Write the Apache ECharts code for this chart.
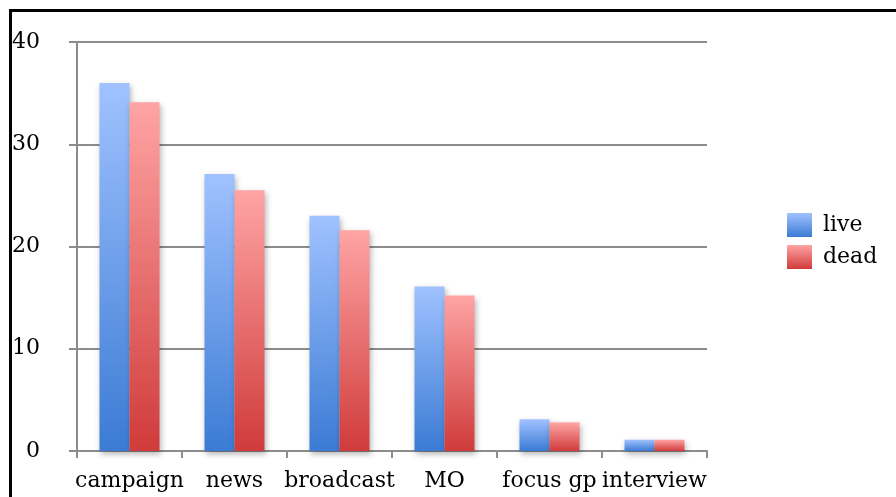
<!DOCTYPE html>
<html>
<head>
<meta charset="utf-8">
<script src="https://cdn.jsdelivr.net/npm/echarts@6/dist/echarts.min.js"></script>
<style>
html,body{margin:0;padding:0;background:#fff;}
#chart{width:896px;height:497px;}
</style>
</head>
<body>
<div id="chart"></div>
<script>
const categories = ['campaign', 'news', 'broadcast', 'MO', 'focus gp', 'interview'];
const liveValues = [36, 27.1, 23, 16.1, 3.1, 1.1];
const deadValues = [34.1, 25.5, 21.6, 15.2, 2.8, 1.1];
const seriesNames = ['live', 'dead'];

const chart = echarts.init(document.getElementById('chart'), null, {renderer: 'canvas'});
const font = 'DejaVu Serif';
const fs = 22;
const grad = (top, bottom) => new echarts.graphic.LinearGradient(0, 0, 0, 1, [
  {offset: 0, color: top}, {offset: 1, color: bottom}
]);
const liveColor = grad('#a0c2ff', '#3b7bd4');
const deadColor = grad('#ffa4a4', '#d03b3b');
const shadow = {shadowBlur: 6, shadowOffsetX: 1, shadowOffsetY: 3, shadowColor: 'rgba(0,0,0,0.3)'};

chart.setOption({
  animation: false,
  backgroundColor: '#fff',
  graphic: [{
    type: 'rect',
    shape: {x: 10.5, y: 10.5, width: 1000, height: 1000},
    style: {fill: 'none', stroke: '#000', lineWidth: 3},
    z: 100
  }],
  grid: {left: 77, right: 189, top: 42, bottom: 46, containLabel: false},
  legend: {
    orient: 'vertical',
    left: 782, top: 208,
    itemWidth: 25, itemHeight: 24, itemGap: 8,
    icon: 'rect',
    textStyle: {fontFamily: font, fontSize: fs, color: '#000', padding: [0, 0, 0, 6]},
    data: seriesNames
  },
  xAxis: {
    type: 'category',
    data: categories,
    axisLine: {lineStyle: {color: '#8c8c8c', width: 2}},
    axisTick: {show: true, length: 7, lineStyle: {color: '#8c8c8c', width: 2}},
    axisLabel: {fontFamily: font, fontSize: fs, color: '#000', margin: 19, interval: 0}
  },
  yAxis: {
    type: 'value',
    min: 0, max: 40, interval: 10,
    axisLine: {show: true, lineStyle: {color: '#8c8c8c', width: 2}},
    axisTick: {show: true, length: 8, lineStyle: {color: '#8c8c8c', width: 2}},
    splitLine: {lineStyle: {color: '#8c8c8c', width: 2}},
    axisLabel: {fontFamily: font, fontSize: fs, color: '#000', margin: 37}
  },
  series: [
    {name: seriesNames[0], type: 'bar', data: liveValues, barWidth: 30, barGap: '0%',
     itemStyle: Object.assign({color: liveColor}, shadow)},
    {name: seriesNames[1], type: 'bar', data: deadValues, barWidth: 30, barGap: '0%',
     itemStyle: Object.assign({color: deadColor}, shadow)}
  ]
});
</script>
</body>
</html>
